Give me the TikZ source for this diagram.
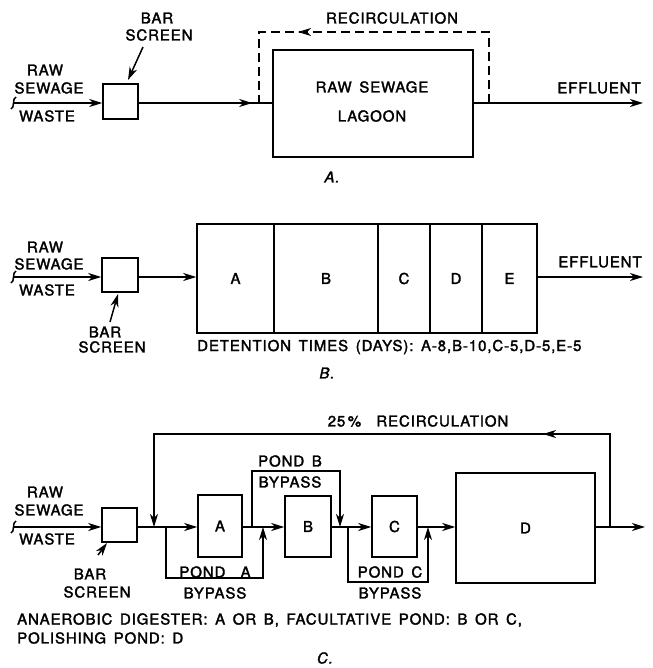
\documentclass[tikz,border=0pt]{standalone}
\usepackage{fontspec}
\setmainfont{TeX Gyre Heros}[LetterSpace=6,FakeBold=2,WordSpace=1.5]
\usetikzlibrary{arrows.meta,decorations.markings}
\begin{document}
\begin{tikzpicture}[x=1pt,y=-1pt,
  flow/.style={line width=1.5pt},
  tip/.style={-{Stealth[length=13pt,width=8pt,inset=4pt]}},
  midarr/.style={postaction={decorate},decoration={markings,mark=at position #1 with {\arrow{Stealth[length=13pt,width=8pt,inset=4pt]}}}},
  box/.style={draw,line width=1.5pt,inner sep=0pt,font=\fontsize{15}{17}\selectfont},
  lbl/.style={inner sep=0pt,font=\fontsize{15}{17}\selectfont},
  figcap/.style={inner sep=0pt,font=\fontsize{15}{17}\selectfont\itshape}]
\useasboundingbox (0,0) rectangle (652,668);

% ================= A =================
\node[lbl] (rawA) at (45,70) {RAW};
\node[lbl] (sewA) at (49,88) {SEWAGE};
\node[lbl] (wasA) at (47,116) {WASTE};
\node[lbl] (barA) at (157,18) {BAR};
\node[lbl] (scrA) at (159,35) {SCREEN};
\node[box,minimum width=35pt,minimum height=35pt] (bsA) at (120.5,101.5) {};
\node[box,minimum width=200pt,minimum height=107pt] (lag) at (373,103.5) {};
\node[lbl] (lagt1) at (372,87) {RAW SEWAGE};
\node[lbl] (lagt2) at (372,116) {LAGOON};
\node[lbl] (recA) at (392,18) {RECIRCULATION};
\node[lbl] (effA) at (599,88) {EFFLUENT};
\node[figcap] (capA) at (332,177) {A.};
\coordinate (inA) at (13,103);
\coordinate (outA) at (643,103);
\coordinate (scrAp) at (143,47);
\coordinate (scrAt) at (128,80);
\draw[flow] (16,97) .. controls (12,98) and (15,108) .. (11,109);
\draw[flow,tip] (inA) -- (inA -| bsA.west);
\draw[flow,midarr=0.85] (inA -| bsA.east) -- (inA -| lag.west);
\draw[flow,tip] (inA -| lag.east) -- (outA);
\draw[flow,tip] (scrAp) -- (scrAt);
\draw[flow,dashed,dash pattern=on 9pt off 5pt,midarr=262pt] (489,103) -- (489,32) -- (259,32) -- (259,103);

% ================= B =================
\node[lbl] (rawB) at (45,247) {RAW};
\node[lbl] (sewB) at (49,264) {SEWAGE};
\node[lbl] (wasB) at (47,290) {WASTE};
\node[box,minimum width=36pt,minimum height=34pt] (bsB) at (120,275) {};
\node[lbl] (barB) at (105,332) {BAR};
\node[lbl] (scrB) at (112,347) {SCREEN};
\node[box,minimum width=77pt,minimum height=109pt] (cA) at (235.5,278.5) {A};
\node[box,minimum width=104pt,minimum height=109pt] (cB) at (326,278.5) {B};
\node[box,minimum width=52pt,minimum height=109pt] (cC) at (404,278.5) {C};
\node[box,minimum width=52pt,minimum height=109pt] (cD) at (456,278.5) {D};
\node[box,minimum width=55pt,minimum height=109pt] (cE) at (509.5,278.5) {E};
\node[lbl] (effB) at (600,262) {EFFLUENT};
\node[lbl,anchor=west] (detB) at (197,347) {DETENTION TIMES (DAYS): A-8,B-10,C-5,D-5,E-5};
\node[figcap] (capB) at (327,373) {B.};
\coordinate (inB) at (13,277);
\coordinate (outB) at (643,277);
\coordinate (scrBp) at (110,322);
\draw[flow] (16,271) .. controls (12,272) and (15,282) .. (11,283);
\draw[flow,tip] (inB) -- (inB -| bsB.west);
\draw[flow,tip] (inB -| bsB.east) -- (inB -| cA.west);
\draw[flow,tip] (inB -| cE.east) -- (outB);
\draw[flow,tip] (scrBp) -- (118,294);

% ================= C =================
\node[lbl] (rawC) at (45,492) {RAW};
\node[lbl] (sewC) at (49,510) {SEWAGE};
\node[lbl] (wasC) at (47,539) {WASTE};
\node[box,minimum width=35pt,minimum height=34pt] (bsC) at (119.5,525) {};
\node[lbl] (barC) at (90,574) {BAR};
\node[lbl] (scrC) at (97,592) {SCREEN};
\node[box,minimum width=44pt,minimum height=62pt] (pA) at (220,526) {A};
\node[box,minimum width=46pt,minimum height=61pt] (pB) at (308,526.5) {B};
\node[box,minimum width=45pt,minimum height=61pt] (pC) at (394.5,526.5) {C};
\node[box,minimum width=139pt,minimum height=110pt] (pD) at (525.5,528) {D};
\node[lbl] (recC) at (418,421) {25\,\%\ \ RECIRCULATION};
\node[lbl] (pBt1) at (290,461) {POND B};
\node[lbl] (pBt2) at (290,482) {BYPASS};
\node[lbl] (pAt1) at (215,572) {POND\ \ A};
\node[lbl] (pAt2) at (215,593) {BYPASS};
\node[lbl] (pCt1) at (390,572) {POND C};
\node[lbl] (pCt2) at (390,593) {BYPASS};
\node[lbl,anchor=west] (noteC1) at (17,620) {ANAEROBIC DIGESTER: A OR B, FACULTATIVE POND: B OR C,};
\node[lbl,anchor=west] (noteC2) at (17,638) {POLISHING POND: D};
\node[figcap] (capC) at (325,658) {C.};
\coordinate (inC) at (13,527);
\coordinate (outC) at (645,527);
\draw[flow] (16,521) .. controls (12,522) and (15,532) .. (11,533);
\draw[flow,tip] (inC) -- (inC -| bsC.west);
\draw[flow,tip] (inC -| bsC.east) -- (inC -| pA.west);
\draw[flow,tip] (inC -| pA.east) -- (inC -| pB.west);
\draw[flow,tip] (inC -| pB.east) -- (inC -| pC.west);
\draw[flow,tip] (inC -| pC.east) -- (inC -| pD.west);
\draw[flow,tip] (inC -| pD.east) -- (outC);
\draw[flow,tip] (98,555) -- (107,543);
% recirculation
\draw[flow,midarr=160pt,tip] (610,527) -- (610,434) -- (154,434) -- (154,527);
% bypasses
\draw[flow,tip] (166,527) -- (166,578) -- (263,578) -- (263,527);
\draw[flow,tip] (252,527) -- (252,471) -- (340,471) -- (340,527);
\draw[flow,tip] (348,527) -- (348,582) -- (428,582) -- (428,527);
\end{tikzpicture}
\end{document}
